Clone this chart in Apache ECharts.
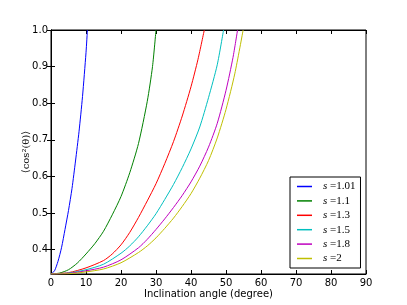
<!DOCTYPE html>
<html>
<head>
<meta charset="utf-8">
<script src="https://cdn.jsdelivr.net/npm/echarts@6/dist/echarts.min.js"></script>
<style>html,body{margin:0;padding:0;background:#fff}#c{width:407px;height:305px}</style>
</head>
<body>
<div id="c"></div>
<script>
// s parameter labels and colours
const sLabels = ['1.01', '1.1', '1.3', '1.5', '1.8', '2'];
const colors = ['#0000ff', '#008000', '#ff0000', '#00bfbf', '#bf00bf', '#bfbf00'];

// inclination angles (degree) and <cos^2(theta)> values
const x101 = [0, 1, 2, 3, 4, 5, 6, 7, 8, 9, 10, 10.4];
const y101 = [0.3333, 0.342, 0.368, 0.405, 0.455, 0.507, 0.567, 0.642, 0.722, 0.818, 0.938, 1.0];

const x11 = [0, 2.5, 5, 7.5, 10, 12.5, 15, 17.5, 20, 22.5, 25, 27.5, 29, 30];
const y11 = [0.3333, 0.336, 0.345, 0.363, 0.388, 0.416, 0.45, 0.495, 0.545, 0.61, 0.69, 0.805, 0.9, 1.0];

const x13 = [0, 5, 10, 15, 17.5, 20, 22.5, 25, 27.5, 30, 32.5, 35, 37.5, 40, 42, 43.8];
const y13 = [0.3333, 0.337, 0.35, 0.37, 0.388, 0.413, 0.447, 0.488, 0.533, 0.58, 0.635, 0.695, 0.765, 0.845, 0.92, 1.0];

const x15 = [0, 5, 10, 15, 20, 22.5, 25, 27.5, 30, 32.5, 35, 37.5, 40, 42.5, 45, 47.5, 49.3];
const y15 = [0.3333, 0.336, 0.345, 0.36, 0.39, 0.41, 0.435, 0.465, 0.498, 0.537, 0.578, 0.624, 0.675, 0.735, 0.815, 0.905, 1.0];

const x18 = [0, 5, 10, 15, 20, 25, 27.5, 30, 32.5, 35, 37.5, 40, 42.5, 45, 47.5, 50, 52, 53.3];
const y18 = [0.3333, 0.335, 0.342, 0.352, 0.372, 0.405, 0.428, 0.455, 0.484, 0.515, 0.548, 0.585, 0.628, 0.68, 0.745, 0.835, 0.925, 1.0];

const x2 = [0, 5, 10, 15, 20, 25, 27.5, 30, 32.5, 35, 37.5, 40, 42.5, 45, 47.5, 50, 52.5, 54.9];
const y2 = [0.3333, 0.334, 0.339, 0.347, 0.364, 0.392, 0.41, 0.432, 0.458, 0.486, 0.518, 0.553, 0.595, 0.643, 0.705, 0.783, 0.88, 1.0];

const xTicks = [0, 10, 20, 30, 40, 50, 60, 70, 80, 90];
const yTicks = [0.4, 0.5, 0.6, 0.7, 0.8, 0.9, 1.0];
const yMin = 0.3333;

const xs = [x101, x11, x13, x15, x18, x2];
const ys = [y101, y11, y13, y15, y18, y2];

const font = 'DejaVu Sans';
const chart = echarts.init(document.getElementById('c'), null, {renderer: 'canvas'});

const series = sLabels.map((lab, i) => ({
  name: lab,
  type: 'line',
  xAxisIndex: 0,
  yAxisIndex: 0,
  data: xs[i].map((x, j) => [x, ys[i][j]]),
  symbol: 'none',
  showSymbol: false,
  smooth: 0.25,
  color: colors[i],
  lineStyle: {color: colors[i], width: 1},
  itemStyle: {color: colors[i]},
  clip: true,
  animation: false
}));

const tickStyle = {inside: true, length: 4, lineStyle: {color: '#000', width: 1}};

chart.setOption({
  backgroundColor: '#fff',
  animation: false,
  grid: {left: 51, right: 41, top: 30, bottom: 31, show: true, borderColor: '#000', borderWidth: 1, backgroundColor: 'transparent'},
  xAxis: [{
    type: 'value', min: 0, max: 90, interval: 10, position: 'bottom',
    axisLine: {show: true, lineStyle: {color: '#000', width: 1}},
    axisTick: tickStyle,
    axisLabel: {color: '#000', fontSize: 10, fontFamily: font, margin: 4},
    splitLine: {show: false},
    name: 'Inclination angle (degree)', nameLocation: 'middle', nameGap: 15, nameMoveOverlap: false,
    nameTextStyle: {color: '#000', fontSize: 10, fontFamily: font}
  }, {
    type: 'value', min: 0, max: 90, interval: 10, position: 'top',
    axisLine: {show: true, lineStyle: {color: '#000', width: 1}},
    axisTick: tickStyle,
    axisLabel: {show: false},
    splitLine: {show: false}
  }],
  yAxis: [{
    type: 'value', min: yMin, max: 1.0, position: 'left',
    axisLine: {show: true, lineStyle: {color: '#000', width: 1}},
    axisTick: Object.assign({customValues: yTicks}, tickStyle),
    axisLabel: {customValues: yTicks, color: '#000', fontSize: 10, fontFamily: font, margin: 3,
      formatter: v => v.toFixed(1)},
    splitLine: {show: false},
    name: '⟨cos²(θ)⟩', nameLocation: 'middle', nameRotate: 90, nameGap: 20, nameMoveOverlap: false,
    nameTextStyle: {color: '#000', fontSize: 10, fontFamily: 'DejaVu Serif'}
  }, {
    type: 'value', min: yMin, max: 1.0, position: 'right',
    axisLine: {show: true, lineStyle: {color: '#000', width: 1}},
    axisTick: Object.assign({customValues: yTicks}, tickStyle),
    axisLabel: {show: false},
    splitLine: {show: false}
  }],
  legend: {
    show: true, orient: 'vertical', left: 290, top: 177,
    padding: [4, 5, 4, 7],
    icon: 'rect',
    itemWidth: 15, itemHeight: 1.5, itemGap: 3.4,
    borderColor: '#000', borderWidth: 1, borderRadius: 0, backgroundColor: '#fff',
    itemStyle: {borderWidth: 0},
    data: sLabels,
    formatter: name => '{i|s} {t|=' + name + '}',
    textStyle: {
      padding: [0, 0, 0, 6],
      fontFamily: 'Liberation Serif', fontSize: 11,
      lineHeight: 10,
      rich: {
        i: {fontFamily: 'Liberation Serif', fontStyle: 'italic', fontSize: 11, lineHeight: 10, color: '#000'},
        t: {fontFamily: 'Liberation Serif', fontSize: 11, lineHeight: 10, color: '#000'}
      }
    }
  },
  series: series
});
</script>
</body>
</html>
